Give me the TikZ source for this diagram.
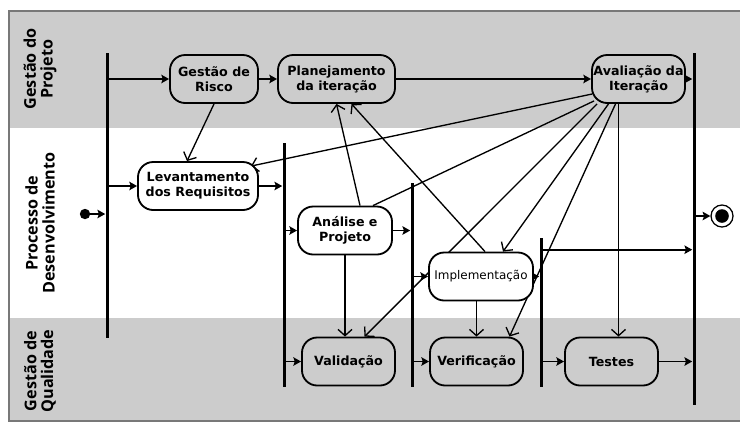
\documentclass[tikz,border=0pt]{standalone}
\usepackage{fontspec}
\setmainfont{DejaVu Sans}
\newfontfamily\lanefont{Open Sans}
\usetikzlibrary{arrows.meta,calc}
\pgfdeclarelayer{lanes}
\pgfdeclarelayer{edges}
\pgfsetlayers{lanes,edges,main}
\definecolor{lanegray}{RGB}{204,204,204}
\definecolor{framegray}{RGB}{120,120,120}
\begin{document}
\begin{tikzpicture}[
    x=0.025cm, y=-0.025cm,
    activity/.style={draw, line width=1.3pt, rounded corners=0.38cm, minimum height=1.2cm,
      inner sep=1pt, align=center, font=\bfseries\fontsize{9}{10.7}\selectfont},
    bar/.style={fill=black, inner sep=0pt, minimum width=0.075cm},
    flow/.style={line width=1.4pt, -{Stealth[length=5.5pt,width=6pt,inset=1pt]}},
    link/.style={line width=0.95pt, -{Straight Barb[length=4.5pt,width=10pt]}},
    lane/.style={rotate=90, align=center, font=\lanefont\bfseries\fontsize{11.5}{12}\selectfont}
  ]
  \useasboundingbox (0,0) rectangle (740,423);
  \begin{pgfonlayer}{lanes}
    \fill[lanegray] (9,11) rectangle (740,128);
    \fill[white] (9,128) rectangle (740,318);
    \fill[lanegray] (9,318) rectangle (740,421);
    \draw[framegray, line width=1.6pt] (740,11) -- (9,11) -- (9,421) -- (740,421);
  \end{pgfonlayer}

  \node[lane] (tprojeto) at (40,69) {Gestão do\\Projeto};
  \node[lane] (tdesenv) at (40,223) {Processo de\\Desenvolvimento};
  \node[lane] (tqualid) at (40,371) {Gestão de\\Qualidade};

  \node[circle, fill=black, inner sep=0pt, minimum size=0.26cm] (inicio) at (85,214) {};
  \node[circle, draw, fill=white, line width=0.9pt, inner sep=0pt, minimum size=0.55cm] (fim) at (722,216) {};
  \fill (fim) circle (0.17cm);

  \node[bar, minimum height=7.125cm] (bar1) at (107,195.5) {};
  \node[bar, minimum height=6.1cm] (bar2) at (284,265) {};
  \node[bar, minimum height=5.1cm] (bar3) at (412,285) {};
  \node[bar, minimum height=3.725cm] (bar4) at (541,312.5) {};
  \node[bar, minimum height=8.8cm] (bar5) at (694,229) {};

  \node[activity, fill=lanegray, minimum width=2.2cm] (risco) at (214,79) {Gestão de\\Risco};
  \node[activity, fill=lanegray, minimum width=2.925cm] (plan) at (336.5,79) {Planejamento\\da iteração};
  \node[activity, fill=lanegray, minimum width=2.325cm] (aval) at (638.5,79) {Avaliação da\\Iteração};
  \node[activity, fill=white, minimum width=3cm] (lev) at (198,186) {Levantamento\\dos Requisitos};
  \node[activity, fill=white, minimum width=2.35cm] (anal) at (345,230.5) {Análise e\\Projeto};
  \node[activity, fill=white, minimum width=2.6cm, font=\fontsize{8.5}{10}\selectfont] (impl) at (481,276.5) {Implementação};
  \node[activity, fill=lanegray, minimum width=2.325cm] (valid) at (348.5,361.5) {Validação};
  \node[activity, fill=lanegray, minimum width=2.325cm] (verif) at (476.5,361.5) {Verificação};
  \node[activity, fill=lanegray, minimum width=2.325cm] (testes) at (611.5,361.5) {Testes};

  \begin{pgfonlayer}{edges}
    \draw[flow] (inicio) -- (inicio -| bar1.west);
    \draw[flow] (bar1.east |- risco.west) -- (risco.west);
    \draw[flow] (bar1.east |- lev.west) -- (lev.west);
    \draw[flow] (risco) -- (plan);
    \draw[flow] (plan) -- (aval);
    \draw[flow] (aval.east) -- (aval.east -| bar5.west);
    \draw[flow] (lev.east) -- (lev.east -| bar2.west);
    \draw[flow] (bar2.east |- anal.west) -- (anal.west);
    \draw[flow] (bar2.east |- valid.west) -- (valid.west);
    \draw[flow] (anal.east) -- (anal.east -| bar3.west);
    \draw[flow] (bar3.east |- impl.west) -- (impl.west);
    \draw[flow] (bar3.east |- verif.west) -- (verif.west);
    \draw[flow] (impl.east) -- (impl.east -| bar4.west);
    \draw[flow] (bar4.east |- testes.west) -- (testes.west);
    \draw[flow] ($(bar4.north east)+(0,12)$) coordinate (b4) -- (b4 -| bar5.west);
    \draw[flow] (testes.east) -- (testes.east -| bar5.west);
    \draw[flow] (bar5.east |- fim) -- (fim);

    \draw[link] (risco.south) -- ($(lev.north)+(-11,0)$);
    \draw[link] ($(anal.north)+(15,0)$) -- (plan.south);
    \draw[link] ($(impl.north)+(4,0)$) -- ($(plan.south)+(15,0)$);
    \draw[link] (anal.south) -- (anal.south |- valid.north);
    \draw[link] (impl.south -| verif.north) -- (verif.north);
    \draw[link] ($(aval.west)+(1,15)$) -- ($(lev.north east)+(-8,5)$);
    \draw[line width=0.95pt] ($(aval.south west)+(3,-3)$) -- ($(anal.north)+(28,0)$);
    \draw[link] ($(aval.south west)+(6,0)$) -- ($(valid.north)+(16,0)$);
    \draw[link] ($(aval.south)+(-30,0)$) -- ($(impl.north)+(22,0)$);
    \draw[link] ($(aval.south)+(-23,0)$) -- ($(verif.north)+(33,0)$);
    \draw[link] ($(aval.south)+(-20,0)$) coordinate (a5) -- (a5 |- testes.north);
  \end{pgfonlayer}
\end{tikzpicture}
\end{document}
